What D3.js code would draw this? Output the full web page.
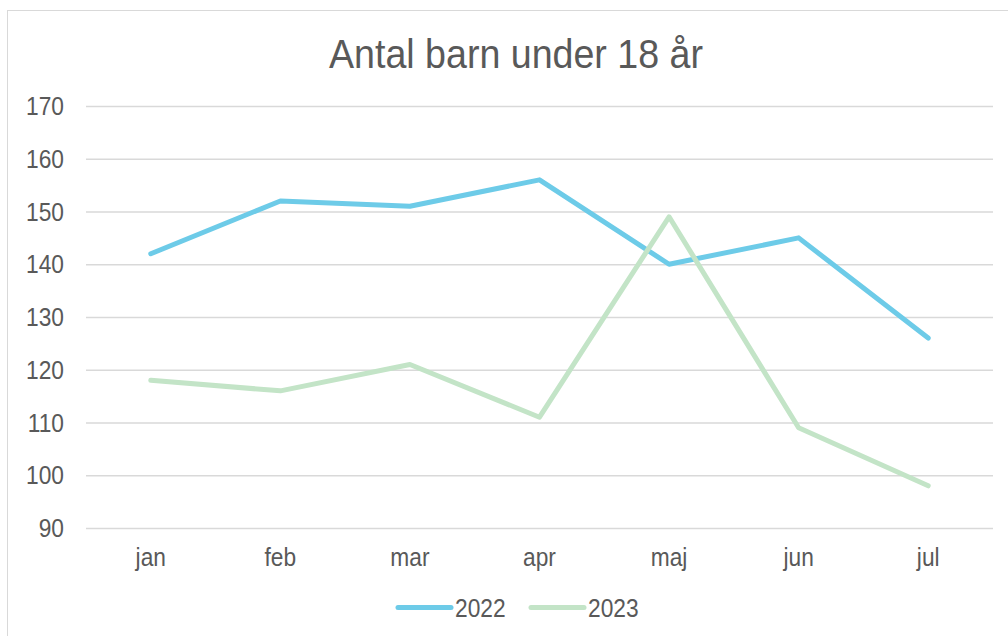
<!DOCTYPE html>
<html>
<head>
<meta charset="utf-8">
<script src="https://cdn.jsdelivr.net/npm/d3@7"></script>
<style>
  body { margin: 0; background: #fff; }
  svg { display: block; font-family: "Liberation Sans", Arial, sans-serif; }
</style>
</head>
<body>
<div id="chart"></div>
<script>
const months = ['jan', 'feb', 'mar', 'apr', 'maj', 'jun', 'jul'];
const values2022 = [142, 152, 151, 156, 140, 145, 126];
const values2023 = [118, 116, 121, 111, 149, 109, 98];
const yTicks = [90, 100, 110, 120, 130, 140, 150, 160, 170];
const seriesNames = ['2022', '2023'];
const seriesColors = ['#6DCBE8', '#C3E4C7'];

const w = 1008;
const h = 636;
const margin = { left: 86, right: 15, top: 106, bottom: 108 };
const textColor = '#595959';

const svg = d3.select('#chart')
  .append('svg')
  .attr('width', w)
  .attr('height', h);

// the source picture is slightly squeezed sideways, so text is too
function addText(parent, x, y, str, size, anchor, squeeze = 0.91) {
  return parent.append('text')
    .attr('transform', `translate(${x},${y}) scale(${squeeze},1)`)
    .attr('text-anchor', anchor)
    .attr('font-size', size)
    .attr('fill', textColor)
    .text(str);
}

// chart frame
svg.append('rect')
  .attr('x', 7.5)
  .attr('y', 10.5)
  .attr('width', w)
  .attr('height', h)
  .attr('fill', 'none')
  .attr('stroke', '#D9D9D9')
  .attr('stroke-width', 1);

addText(svg, 516, 67.5, 'Antal barn under 18 år', 40, 'middle', 0.94);

const xScale = d3.scaleBand()
  .domain(months)
  .range([margin.left, w - margin.right]);

const yScale = d3.scaleLinear()
  .domain([90, 170])
  .range([h - margin.bottom, margin.top]);

// gridlines
svg.append('g')
  .attr('class', 'grid')
  .attr('transform', `translate(${margin.left},0)`)
  .call(d3.axisLeft(yScale)
    .tickValues(yTicks)
    .tickSize(-(w - margin.right - margin.left))
    .tickFormat(''))
  .call((g) => g.select('.domain').remove())
  .call((g) => g.selectAll('line')
    .attr('stroke', '#D9D9D9')
    .attr('stroke-width', 1.5));

// y labels
const yLabels = svg.append('g');
yTicks.forEach((t) => addText(yLabels, 64, yScale(t) + 9, t, 25, 'end'));

// x labels
const xLabels = svg.append('g');
months.forEach((m) => addText(xLabels, xScale(m) + xScale.bandwidth() / 2,
  566, m, 25, 'middle'));

const line = d3.line()
  .x((d, i) => xScale(months[i]) + xScale.bandwidth() / 2)
  .y((d) => yScale(d));

[values2022, values2023].forEach((vals, i) => {
  svg.append('path')
    .datum(vals)
    .attr('fill', 'none')
    .attr('stroke', seriesColors[i])
    .attr('stroke-width', 5)
    .attr('stroke-linecap', 'round')
    .attr('stroke-linejoin', 'round')
    .attr('d', line);
});

// legend
const legend = svg.append('g').attr('transform', 'translate(398,607.5)');
seriesNames.forEach((name, i) => {
  const g = legend.append('g').attr('transform', `translate(${i * 133},0)`);
  g.append('line')
    .attr('x1', 0).attr('x2', 53)
    .attr('y1', 0).attr('y2', 0)
    .attr('stroke', seriesColors[i])
    .attr('stroke-width', 5)
    .attr('stroke-linecap', 'round');
  addText(g, 57, 9, name, 25, 'start');
});
</script>
</body>
</html>
